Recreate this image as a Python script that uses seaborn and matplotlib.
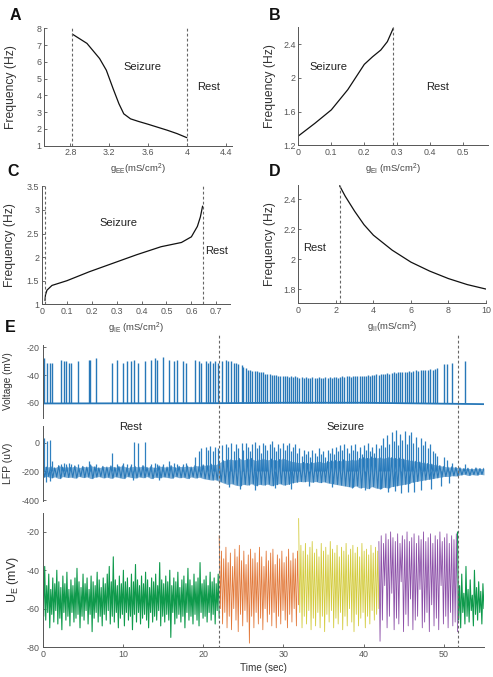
import numpy as np
import matplotlib
matplotlib.use('Agg')
import matplotlib.pyplot as plt
import seaborn as sns
from matplotlib import font_manager
from matplotlib.ticker import FuncFormatter

# ======================
# 1. CONFIGURACION
# ======================
sns.set_theme(style='ticks')
nombres = {f.name for f in font_manager.fontManager.ttflist}
fuente = 'Liberation Sans' if 'Liberation Sans' in nombres else 'DejaVu Sans'
fuente_tick = 'Liberation Sans Narrow' if 'Liberation Sans Narrow' in nombres else fuente
tam_tick = 6.9 if fuente_tick == 'Liberation Sans Narrow' else 6.4
plt.rcParams['font.family'] = [fuente, 'DejaVu Sans']
plt.rcParams['mathtext.fontset'] = 'custom'
plt.rcParams['mathtext.rm'] = fuente
plt.rcParams['mathtext.it'] = fuente

GRIS = '#555555'
AZUL = '#2878b8'

# ======================
# 2. DATOS
# ======================
# A: frecuencia vs gEE
a_x = [2.82, 2.97, 3.1, 3.17, 3.24, 3.3, 3.35, 3.42, 3.5, 3.6, 3.7, 3.8, 3.9, 4.0]
a_y = [7.65, 7.1, 6.2, 5.5, 4.4, 3.5, 2.9, 2.6, 2.45, 2.28, 2.1, 1.92, 1.72, 1.48]
a_limites = [2.82, 4.0]
# B: frecuencia vs gEI
b_x = [0, 0.05, 0.1, 0.15, 0.2, 0.225, 0.25, 0.27, 0.288]
b_y = [1.31, 1.46, 1.62, 1.86, 2.16, 2.25, 2.33, 2.43, 2.59]
b_limites = [0.288]
# C: frecuencia vs gIE
c_x = [0.012, 0.014, 0.02, 0.04, 0.1, 0.19, 0.285, 0.38, 0.478, 0.56, 0.6, 0.624, 0.636, 0.645]
c_y = [1.08, 1.2, 1.3, 1.4, 1.5, 1.69, 1.87, 2.05, 2.22, 2.31, 2.43, 2.65, 2.85, 3.08]
c_limites = [0.012, 0.645]
# D: frecuencia vs gII
d_x = [2.2, 2.5, 3, 3.5, 4, 5, 6, 7, 8, 9, 10]
d_y = [2.49, 2.42, 2.32, 2.23, 2.16, 2.06, 1.98, 1.92, 1.87, 1.83, 1.80]
d_limites = [2.2]

# E: limites de la crisis (s)
e_limites = [22.0, 51.8]

# Voltaje: linea base y espigas
v_base_t = [0, 22, 30, 40, 49, 55]
v_base = [-60.5, -60.3, -60.0, -60.0, -60.6, -61.0]
v_spk_t = [0.2, 0.5, 0.85, 1.2, 2.25, 2.7, 2.95, 3.25, 3.5, 4.4, 5.8, 5.95, 6.7, 8.6, 9.3, 10.0, 10.5,
           11.0, 11.4, 11.9, 12.8, 13.5, 14.0, 14.25, 14.95, 15.7, 16.4, 16.8, 17.5, 17.8, 19.0, 19.5,
           19.75, 20.3, 20.6, 20.9, 21.25, 21.5, 21.8,
           22.3, 22.8, 23.1, 23.5, 23.8, 24.1, 24.4, 24.8, 25.0, 25.3, 25.6, 25.9, 26.1, 26.4, 26.7,
           26.95, 27.2, 27.5, 27.75, 28.0,
           28.3, 28.55, 28.8, 29.1, 29.35, 29.6, 29.9, 30.15, 30.4, 30.7, 30.95, 31.2, 31.5, 31.75,
           32.0, 32.3, 32.55, 32.8, 33.1, 33.35,
           33.6, 33.9, 34.15, 34.4, 34.7, 34.95, 35.2, 35.5, 35.75, 36.0, 36.3, 36.55, 36.8, 37.1,
           37.35, 37.6, 37.9, 38.15, 38.4, 38.7,
           38.95, 39.2, 39.5, 39.75, 40.0, 40.3, 40.55, 40.8, 41.1, 41.35, 41.6, 41.9, 42.15, 42.4,
           42.7, 42.95, 43.2, 43.5, 43.75, 44.0,
           44.3, 44.55, 44.8, 45.1, 45.35, 45.6, 45.9, 46.2, 46.5, 46.8, 47.1, 47.4, 47.7, 48.0,
           48.3, 48.6, 48.9, 49.2,
           50.0, 50.4, 51.0, 52.6]
v_spk_pk = [-28, -31, -31, -31, -29, -30, -30, -31, -31, -30, -29, -29, -28, -31, -29, -31, -30,
            -30, -29, -31, -30, -29, -28, -29, -27, -29, -30, -29, -30, -31, -29, -30,
            -31, -30, -31, -30, -31, -30, -31,
            -30, -29, -30, -30, -31, -31, -32, -33, -34, -35, -36, -36, -37, -37, -37,
            -38, -38, -38, -39, -39,
            -39, -40, -40, -40, -40.5, -41, -40.5, -41, -41, -41.5, -41, -41.5, -41, -41.5,
            -42, -41.5, -42, -41.5, -42, -42,
            -41.5, -42, -42, -41.5, -42, -42, -41.5, -42, -41.5, -42, -41.5, -41.5, -42, -41.5,
            -41, -41.5, -41, -41, -41.5, -41,
            -41, -41, -40.5, -41, -40.5, -40.5, -40, -40.5, -40, -40, -39.5, -40, -39.5, -39,
            -39, -38.5, -39, -38.5, -38, -38.5,
            -38, -38, -37.5, -38, -37.5, -37, -37.5, -37, -36.5, -37, -36.5, -36, -36.5, -36,
            -35.5, -36, -35.5, -35,
            -32, -32, -31, -30]

# LFP: banda de ruido (cada 0.5 s) y espigas
lfp_t = np.arange(0, 55.01, 0.5)
lfp_hi = [-160, -170, -165, -175, -160, -170, -168, -172, -162, -175, -165, -170, -160, -168, -175,
          -165, -170, -162, -172, -166, -160, -174, -168, -165, -170, -160, -172, -166, -175, -162,
          -168, -170, -160, -173, -165, -168, -162, -170, -158, -165, -155, -160, -150, -155,
          -140, -125, -120, -115, -125, -110, -120, -115, -110, -125, -118, -112, -120, -115, -125,
          -118, -110, -120, -130, -135, -140, -138, -145, -140, -135, -130, -140, -132, -128, -125,
          -130, -120, -125, -118, -122, -110, -105, -110, -100, -108, -102, -110, -100, -105, -110,
          -108, -115, -120, -125, -130, -135, -140, -145, -150, -155, -160, -165, -170, -168, -172,
          -175, -180, -178, -182, -176, -180, -178]
lfp_lo = [-240, -235, -245, -238, -250, -236, -242, -240, -247, -235, -243, -238, -250, -240, -236,
          -245, -240, -248, -237, -243, -250, -236, -242, -246, -238, -244, -236, -250, -240, -245,
          -238, -242, -248, -236, -244, -240, -250, -238, -246, -240, -250, -255, -260, -258,
          -270, -280, -290, -285, -295, -300, -290, -295, -285, -300, -290, -295, -288, -300, -292,
          -285, -295, -290, -280, -275, -270, -272, -268, -275, -270, -278, -272, -280, -285, -290,
          -295, -300, -305, -310, -300, -315, -310, -320, -305, -315, -320, -310, -315, -305, -300,
          -295, -290, -285, -275, -270, -265, -260, -255, -250, -245, -240, -235, -235, -230, -232,
          -225, -220, -228, -222, -226, -220, -224]
lfp_spk_top = [30, 10, 20, -130, -150, -140, -150, -140, -150, -150, -130, -150, -150, -70, -150, -140,
               -150, -150, 5, 0, 5, -150, -140, -150, -150, -130, -140, -150, -150, -140, -100, -60,
               -40, -30, -50, -25, -60, -30, -40,
               -20, -10, -30, 0, -60, -10, -40, -5, -50, 0, -30, -60, -10, 5, -40, -20, -70, 0, -20, -50,
               -10, 10, -30, -60, -10, -40, -5, -50, -20, 0, -60, -30, -10, -70, -40, -90, -50, -80,
               -60, -100,
               -50, -70, -90, -40, -80, -60, -100, -50, -70, -40, -80, -30, -60, -20, -50, -10, -40,
               -70, -20, -50,
               -10, -60, -30, -80, -20, -50, 0, -60, -30, -70, -10, -40, -20, 30, -30, 50, -10, 70,
               10, 90,
               -20, 60, 20, 80, -10, 50, 70, 0, 40, -30, 30, -20, 10, -40, -10, -60, -70, -90,
               -100, -120, -140, -150]
lfp_dn_t = [0.4, 0.9, 11.3, 14.5, 23.2, 24.6, 26.5, 28.9, 31.0, 33.2, 36.1, 38.5, 40.2, 42.1, 43.0,
            43.9, 44.6, 45.5, 46.3, 47.2, 48.4, 49.6, 50.6]
lfp_dn_v = [-275, -265, -262, -258, -310, -320, -330, -315, -320, -300, -310, -315, -330, -325, -340,
            -335, -350, -345, -340, -330, -320, -300, -280]

# U_E: muestras (pico / valle alternados) por tramo
ue_reposo = [-45, -64, -38, -66, -48, -62, -42, -70, -50, -63, -44, -67, -47, -61, -40, -68, -46, -65, -49, -71,
             -43, -62, -47, -66, -41, -64, -50, -69, -45, -62, -48, -67, -44, -65, -39, -63, -46, -70, -49, -64,
             -42, -66, -47, -61, -44, -68, -50, -63, -43, -72, -46, -65, -48, -62, -41, -67, -45, -64, -49, -69,
             -44, -63, -47, -66, -42, -61, -38, -68, -46, -64, -33, -67, -45, -62, -48, -70, -43, -65, -47, -63,
             -40, -69, -46, -62, -44, -66, -49, -64, -42, -71, -46, -63, -37, -67, -45, -62, -48, -68, -43, -65,
             -47, -63, -41, -66, -45, -70, -49, -62, -44, -67, -46, -64, -42, -66, -48, -61, -36, -69, -45, -64,
             -47, -67, -43, -63, -46, -66, -40, -75, -48, -62, -44, -68, -46, -65, -41, -63, -49, -67, -45, -64,
             -43, -70, -47, -62, -39, -66, -45, -64, -48, -68, -42, -63, -46, -66, -44, -69, -36, -62, -47, -65,
             -45, -64, -43, -67, -48, -62, -41, -66, -46, -63, -44, -68, -47, -61, -42, -65]
ue_naranja = [-22, -60, -30, -68, -34, -62, -28, -70, -36, -64, -31, -71, -38, -60, -29, -66, -33, -72, -27, -63,
              -35, -69, -30, -61, -37, -67, -32, -78, -29, -64, -34, -70, -31, -62, -36, -68, -28, -65, -33, -71,
              -38, -60, -30, -67, -35, -63, -31, -69, -29, -62, -37, -70, -32, -64, -34, -68, -30, -61, -36, -66,
              -33, -70, -29, -63, -35, -67, -31, -60, -34, -69, -30, -58]
ue_amarillo = [-13, -62, -27, -70, -30, -64, -26, -68, -32, -61, -28, -71, -25, -65, -31, -69, -29, -62, -33, -70,
               -26, -64, -30, -72, -28, -63, -32, -67, -25, -61, -29, -70, -31, -65, -27, -68, -33, -62, -28, -71,
               -30, -64, -26, -69, -32, -60, -29, -67, -27, -72, -31, -63, -28, -69, -33, -65, -26, -62, -30, -70,
               -29, -64, -32, -68, -27, -61, -31, -66, -28, -63, -30, -60]
ue_morado = [-25, -77, -22, -66, -26, -48, -21, -70, -24, -64, -20, -52, -23, -71, -25, -65, -21, -68, -26, -46,
             -22, -72, -24, -63, -20, -69, -25, -55, -23, -71, -21, -66, -26, -64, -22, -50, -24, -70, -20, -67,
             -25, -62, -23, -72, -21, -58, -26, -69, -22, -65, -24, -71, -20, -48, -25, -68, -23, -64, -21, -70,
             -26, -62, -22, -69, -24, -67, -21, -72]
ue_final = [-20, -66, -48, -70, -42, -62, -52, -68, -38, -64, -50, -67, -45, -61, -53, -69, -40, -63,
            -49, -66, -46, -62, -51, -68, -47, -60]
ue_tramos = [(0.0, 22.0), (22.0, 31.9), (31.9, 41.9), (41.9, 51.7), (51.7, 55.0)]
ue_colores = ['#0f9a4c', '#e2793a', '#d3cb3c', '#8c4fa8', '#0f9a4c']
ue_grosor = [0.8, 0.6, 0.6, 0.6, 0.8]

# ======================
# 3. FUNCIONES DE ESTILO
# ======================
fmt = FuncFormatter(lambda v, _: f'{v:g}')


def estilo(ax, abajo=True):
    sns.despine(ax=ax)
    for s in ['left', 'bottom']:
        ax.spines[s].set_color(GRIS)
        ax.spines[s].set_linewidth(0.7)
    ax.tick_params(direction='in', length=2.5, width=0.6, colors=GRIS, labelsize=tam_tick, pad=2,
                   labelfontfamily=fuente_tick)
    ax.xaxis.set_major_formatter(fmt)
    ax.yaxis.set_major_formatter(fmt)
    if not abajo:
        ax.spines['bottom'].set_visible(False)
        ax.tick_params(axis='x', bottom=False, labelbottom=False)


def etiqueta_y(ax, texto, tam, x_frac):
    ax.set_ylabel(texto, fontsize=tam, color='#333333')
    ax.yaxis.label.set_verticalalignment('center')
    ax.yaxis.set_label_coords(x_frac, 0.5)


def panel_frecuencia(ax, x, y, limites, xlim, ylim, xticks, yticks, xlabel, ylab_x):
    sns.lineplot(x=x, y=y, ax=ax, color='#111111', lw=0.9, sort=False, estimator=None)
    for l in limites:
        ax.axvline(l, color='#666666', lw=0.8, ls=(0, (2.5, 2)))
    ax.set_xlim(*xlim)
    ax.set_ylim(*ylim)
    ax.set_xticks(xticks)
    ax.set_yticks(yticks)
    estilo(ax)
    ax.set_xlabel(xlabel, fontsize=6.8, color='#444444', labelpad=3)
    etiqueta_y(ax, 'Frequency (Hz)', 8.7, ylab_x)


# ======================
# 4. FIGURA
# ======================
fig = plt.figure(figsize=(4.93, 6.77), dpi=100)

axA = fig.add_axes([0.0899, 0.7848, 0.3813, 0.1734])
panel_frecuencia(axA, a_x, a_y, a_limites, (2.53, 4.47), (1, 8), [2.8, 3.2, 3.6, 4, 4.4],
                 range(1, 9), r'g$_{\rm EE}$(mS/cm$^2$)', -0.175)
axA.text(3.546, 5.67, 'Seizure', fontsize=8, color='#222222', ha='center', va='center')
axA.text(4.227, 4.52, 'Rest', fontsize=8, color='#222222', ha='center', va='center')

axB = fig.add_axes([0.6051, 0.7854, 0.3854, 0.1743])
panel_frecuencia(axB, b_x, b_y, b_limites, (0, 0.576), (1.2, 2.6), [0, 0.1, 0.2, 0.3, 0.4, 0.5],
                 [1.2, 1.6, 2, 2.4], r'g$_{\rm EI}$ (mS/cm$^2$)', -0.149)
axB.text(0.091, 2.124, 'Seizure', fontsize=8, color='#222222', ha='center', va='center')
axB.text(0.422, 1.894, 'Rest', fontsize=8, color='#222222', ha='center', va='center')

axC = fig.add_axes([0.0852, 0.5505, 0.3813, 0.1743])
panel_frecuencia(axC, c_x, c_y, c_limites, (0, 0.755), (1, 3.5), [0, 0.1, 0.2, 0.3, 0.4, 0.5, 0.6, 0.7],
                 [1, 1.5, 2, 2.5, 3, 3.5], r'g$_{\rm IE}$ (mS/cm$^2$)', -0.172)
axC.text(0.309, 2.716, 'Seizure', fontsize=8, color='#222222', ha='center', va='center')
axC.text(0.70, 2.136, 'Rest', fontsize=8, color='#222222', ha='center', va='center')

axD = fig.add_axes([0.6051, 0.552, 0.3807, 0.1747])
panel_frecuencia(axD, d_x, d_y, d_limites, (0, 10), (1.705, 2.495), [0, 2, 4, 6, 8, 10],
                 [1.8, 2, 2.2, 2.4], r'g$_{\rm II}$(mS/cm$^2$)', -0.151)
axD.text(0.89, 2.073, 'Rest', fontsize=8, color='#222222', ha='center', va='center')

# --- E: series temporales ---
ancho_e = [0.0866, 0.8951]
axV = fig.add_axes([ancho_e[0], 0.3826, ancho_e[1], 0.1083])
axV.plot(v_base_t, v_base, color=AZUL, lw=1.3)
axV.vlines(v_spk_t, -60.5, v_spk_pk, color=AZUL, lw=1.0)
axV.set_xlim(0, 55)
axV.set_ylim(-71, -18)
axV.set_yticks([-60, -40, -20])
estilo(axV, abajo=False)
etiqueta_y(axV, 'Voltage (mV)', 7.2, -0.078)

axL = fig.add_axes([ancho_e[0], 0.26, ancho_e[1], 0.1108])
axL.fill_between(lfp_t, lfp_lo, lfp_hi, color=AZUL, alpha=0.6, lw=0)
# trazo en zigzag entre borde superior e inferior de la banda
zz_t = np.column_stack([lfp_t, lfp_t + 0.25]).ravel()
zz_v = np.column_stack([lfp_hi, lfp_lo]).ravel()
axL.plot(zz_t, zz_v, color=AZUL, lw=0.8)
axL.vlines(v_spk_t, -200, lfp_spk_top, color='#2f80c0', lw=0.9)
axL.vlines(lfp_dn_t, -200, lfp_dn_v, color='#2f80c0', lw=0.9)
axL.set_xlim(0, 55)
axL.set_ylim(-405, 115)
axL.set_yticks([-400, -200, 0])
estilo(axL, abajo=False)
etiqueta_y(axL, 'LFP (uV)', 7.5, -0.078)
axL.text(10.9, 108, 'Rest', fontsize=8, color='#222222', ha='center', va='center')
axL.text(37.8, 108, 'Seizure', fontsize=8, color='#222222', ha='center', va='center')

axU = fig.add_axes([ancho_e[0], 0.0443, ancho_e[1], 0.1984])
for (t0, t1), vals, col, lw in zip(ue_tramos, [ue_reposo, ue_naranja, ue_amarillo, ue_morado, ue_final],
                                   ue_colores, ue_grosor):
    sns.lineplot(x=np.linspace(t0, t1, len(vals)), y=vals, ax=axU, color=col, lw=lw,
                 sort=False, estimator=None)
axU.set_xlim(0, 55)
axU.set_ylim(-80, -10)
axU.set_xticks([0, 10, 20, 30, 40, 50])
axU.set_yticks([-80, -60, -40, -20])
estilo(axU)
axU.set_xlabel('Time (sec)', fontsize=7.2, color='#333333', labelpad=3)
etiqueta_y(axU, r'U$_{\rm E}$ (mV)', 9, -0.068)

# lineas discontinuas a traves de los tres paneles
axO = fig.add_axes([ancho_e[0], 0.0428, ancho_e[1], 0.4653])
axO.set_xlim(0, 55)
axO.set_ylim(0, 1)
axO.axis('off')
for l in e_limites:
    axO.axvline(l, color='#666666', lw=0.8, ls=(0, (2.5, 2)))

# letras de panel
for letra, (px, py) in zip('ABCDE', [(15, 15), (275, 15), (13, 172), (275, 172), (10, 327)]):
    fig.text(px / 493, 1 - py / 677, letra, fontsize=11.5, fontweight='bold', color='#111111',
             ha='center', va='center')

fig.savefig('out.png', dpi=100)
print('Figura guardada en out.png')
